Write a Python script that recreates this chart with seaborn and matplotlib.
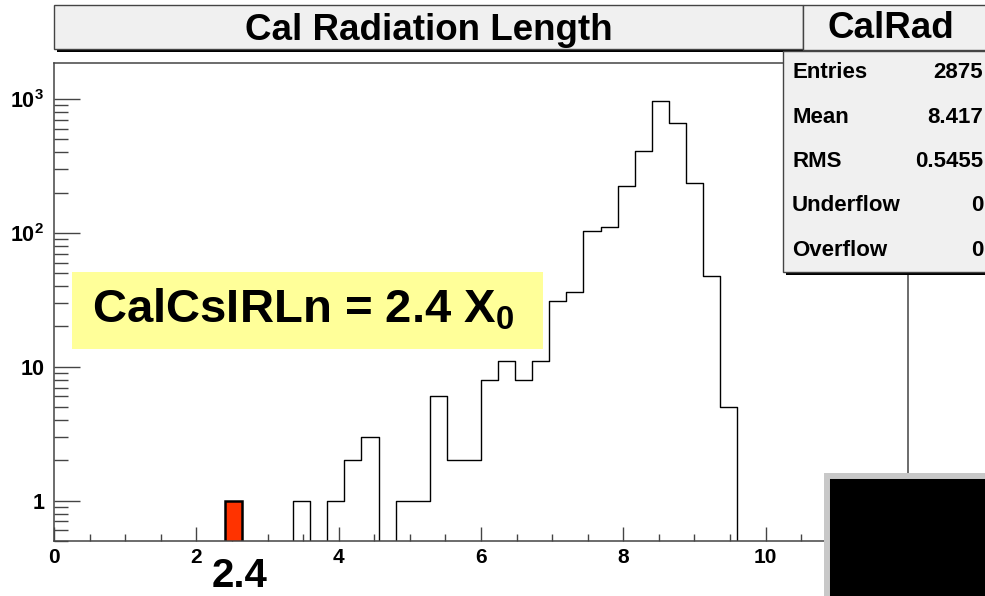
import numpy as np
import pandas as pd
import seaborn as sns
import matplotlib.pyplot as plt
from matplotlib.patches import Rectangle
from matplotlib.ticker import MultipleLocator, FixedLocator, LogLocator, NullFormatter

sns.set_style("ticks")
plt.rcParams['font.family'] = ['Liberation Sans', 'DejaVu Sans']
plt.rcParams['font.weight'] = 'bold'
plt.rcParams['text.color'] = 'black'
plt.rcParams['xtick.labelcolor'] = 'black'
plt.rcParams['ytick.labelcolor'] = 'black'
plt.rcParams['mathtext.fontset'] = 'custom'
plt.rcParams['mathtext.rm'] = 'Liberation Sans:bold'
plt.rcParams['mathtext.it'] = 'Liberation Sans:bold'
plt.rcParams['mathtext.bf'] = 'Liberation Sans:bold'

# histogram contents (non-empty bins, 50 bins over 0-12)
bin_width = 0.24
bin_left = [3.36, 3.84, 4.08, 4.32, 4.80, 5.04, 5.28, 5.52, 5.76, 6.00, 6.24, 6.48,
            6.72, 6.96, 7.20, 7.44, 7.68, 7.92, 8.16, 8.40, 8.64, 8.88, 9.12, 9.36]
counts = [1, 1, 2, 3, 1, 1, 6, 2, 2, 8, 11, 8,
          11, 31, 36, 103, 110, 224, 412, 960, 660, 234, 48, 5]
# highlighted bin
hl_left = [2.40]
hl_counts = [1]

stat_names = ["Entries", "Mean", "RMS", "Underflow", "Overflow"]
stat_values = ["2875", "8.417", "0.5455", "0", "0"]

ytick_vals = [1, 10, 100, 1000]
ytick_labels = ["1", "10", r"10$^{2}$", r"10$^{3}$"]
xtick_vals = [0, 2, 4, 6, 8, 10, 12]

W, H = 985, 596
fig = plt.figure(figsize=(W / 100, H / 100), dpi=100)


def fx(x):
    return x / W


def fy(y):
    return 1 - y / H


ax = fig.add_axes([fx(54), fy(541), (908 - 54) / W, (541 - 63) / H])

df = pd.DataFrame({"x": np.array(bin_left) + bin_width / 2, "n": counts})
edges = [round(i * bin_width, 2) for i in range(51)]
sns.histplot(data=df, x="x", weights="n", bins=edges, element="step", fill=False,
             color="black", linewidth=1.0, ax=ax)

hl = pd.DataFrame({"x": np.array(hl_left) + bin_width / 2, "n": hl_counts})
sns.histplot(data=hl, x="x", weights="n", bins=[hl_left[0], hl_left[0] + bin_width],
             element="bars", color="#ff3300", alpha=1, edgecolor="black",
             linewidth=1.8, ax=ax)

ax.set_yscale('log')
ax.set_xlim(0, 12)
ax.set_ylim(0.5, 1857)
ax.set_xlabel('')
ax.set_ylabel('')

ax.xaxis.set_major_locator(FixedLocator(xtick_vals))
ax.xaxis.set_minor_locator(MultipleLocator(0.5))
ax.yaxis.set_major_locator(FixedLocator(ytick_vals))
ax.set_yticklabels(ytick_labels)
ax.yaxis.set_minor_locator(LogLocator(base=10, subs=np.arange(2, 10)))
ax.yaxis.set_minor_formatter(NullFormatter())

ax.tick_params(axis='x', which='major', direction='in', length=10, width=1,
               color='#444444', labelsize=15, pad=5)
ax.tick_params(axis='x', which='minor', direction='in', length=5, width=1,
               color='#444444')
ax.tick_params(axis='y', which='major', direction='in', length=19, width=1,
               color='#444444', labelsize=15.5, pad=7)
ax.tick_params(axis='y', which='minor', direction='in', length=10, width=1,
               color='#444444')
for lab in ax.get_xticklabels() + ax.get_yticklabels():
    lab.set_fontweight('bold')
for sp in ax.spines.values():
    sp.set_color('#444444')
    sp.set_linewidth(1.1)


def box(x0, y0, x1, y1, fc, ec="#444444", lw=1.0, shadow=True, z=5):
    if shadow:
        fig.add_artist(Rectangle((fx(x0 + 3), fy(y1 + 3)), (x1 - x0) / W, (y1 - y0) / H,
                                 transform=fig.transFigure, fc='black', ec='none',
                                 zorder=z))
    fig.add_artist(Rectangle((fx(x0), fy(y1)), (x1 - x0) / W, (y1 - y0) / H,
                             transform=fig.transFigure, fc=fc, ec=ec, lw=lw,
                             zorder=z + 0.1))


# title boxes
box(54, 5, 803, 49, '#f0f0f0')
fig.text(fx(429), fy(30), "Cal Radiation Length", ha='center', va='center',
         fontsize=26.5, fontweight='bold', zorder=7)
box(783, 51, 995, 272, '#f0f0f0', z=5)
box(803, 5, 995, 50, '#f0f0f0', shadow=False, z=6)
fig.text(fx(891), fy(29), "CalRad", ha='center', va='center',
         fontsize=26.5, fontweight='bold', zorder=7)
for i, (nm, val) in enumerate(zip(stat_names, stat_values)):
    yy = 73 + i * 44.3
    fig.text(fx(792), fy(yy), nm, ha='left', va='center', fontsize=16,
             fontweight='bold', zorder=7)
    fig.text(fx(983), fy(yy), val, ha='right', va='center', fontsize=16,
             fontweight='bold', zorder=7)

# yellow annotation
box(72, 272, 543, 349, '#ffff99', ec='none', shadow=False, z=4)
fig.text(fx(92), fy(323), r"CalCsIRLn = 2.4 X$_{0}$", ha='left', va='baseline',
         fontsize=34, fontweight='bold', zorder=7)

# big label below the axis
fig.text(fx(240), fy(576), "2.4", ha='center', va='center', fontsize=29,
         fontweight='bold', zorder=7)

# black panel bottom-right
fig.add_artist(Rectangle((fx(827), fy(600)), (1000 - 827) / W, (600 - 476) / H,
                         transform=fig.transFigure, fc='black', ec='#c8c8c8',
                         lw=4.3, zorder=8))

fig.savefig("out.png", dpi=100)
